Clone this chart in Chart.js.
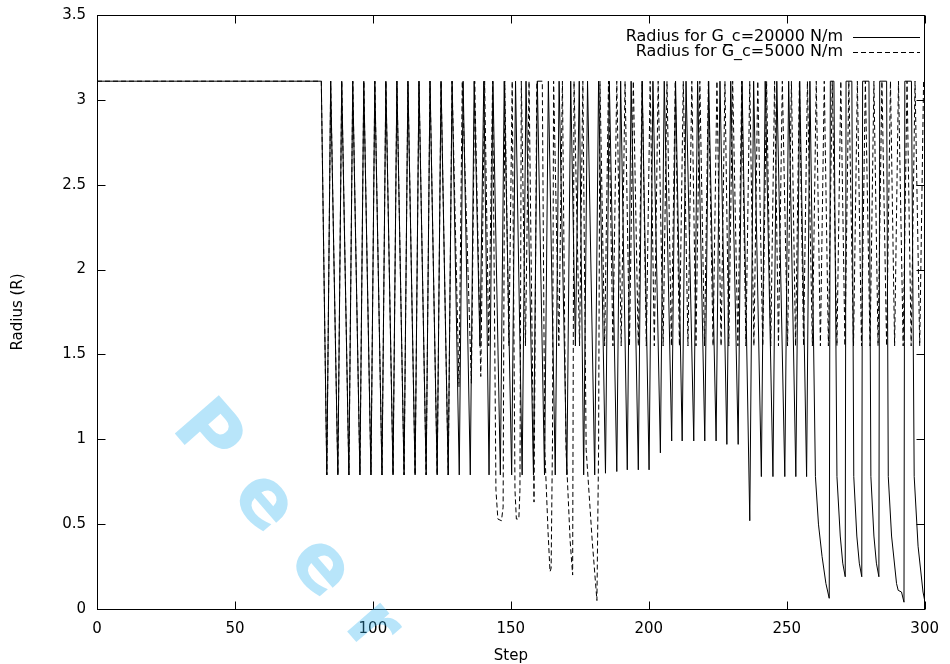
<!DOCTYPE html>
<html><head><meta charset="utf-8">
<script src="https://cdn.jsdelivr.net/npm/chart.js@4.4.1/dist/chart.umd.min.js"></script>
<style>html,body{margin:0;padding:0;background:#fff;}#wrap{width:950px;height:664px;}</style>
</head><body><div id="wrap"><canvas id="c" width="950" height="664"></canvas></div>
<script>
const xTicks = [0, 50, 100, 150, 200, 250, 300];
const yTicks = [0, 0.5, 1, 1.5, 2, 2.5, 3, 3.5];
const seriesLabels = ['Radius for G_c=20000 N/m', 'Radius for G_c=5000 N/m'];
const xTitle = 'Step';
const yTitle = 'Radius (R)';
const watermark = 'Peer Review';

const stepsSolid = [
 0, 81.3,
 83.3, 84.7, 87.3, 88.7, 91.3, 92.7, 95.3, 96.7, 99.3, 100.7, 103.3, 104.7, 107.3, 108.7,
 111.3, 112.7, 115.3, 116.7, 119.3, 120.7, 123.3, 124.7, 127.3, 128.7, 131.3, 132.7, 135.3, 136.7,
 138.8, 140.2, 142.1, 143.5, 146.2, 147.6, 150.3, 151.7, 154.1, 155.5, 158.2, 159.6, 162.2, 163.6,
 166.1, 167.5, 170.3, 171.7, 173.4, 174.8, 176.4, 177.8, 180.4, 181.8, 184.3, 185.7, 188.4, 189.8,
 192.2, 193.6, 196.2, 197.6, 200.1, 201.5, 204.2, 205.6, 208.3, 209.7, 212.1, 213.5, 216.3, 217.7,
 220.3, 221.7, 224.4, 225.8, 228.3, 229.7, 232.4, 233.8, 236.6, 238.0, 240.8, 242.2, 245.0, 246.4,
 249.3, 250.7, 253.3, 254.7, 257.2, 258.4,
 260.4, 261.5, 262.8, 264.2, 265.4, 265.8,
 267.1, 268.2, 269.4, 270.3, 271.2, 271.5,
 273.6, 274.3, 275.4, 276.3, 277.2, 277.5,
 279.8, 280.5, 281.6, 282.5, 283.4, 283.7,
 286.2, 286.8, 288.0, 289.8, 290.4, 291.6, 292.5, 292.8,
 295.2, 296.2, 297.6, 299.4, 300
];
const radiusSolid = [
 3.11, 3.11,
 0.79, 3.11, 0.79, 3.11, 0.79, 3.11, 0.79, 3.11, 0.79, 3.11, 0.79, 3.11, 0.79, 3.11,
 0.79, 3.11, 0.79, 3.11, 0.79, 3.11, 0.79, 3.11, 0.79, 3.11, 0.79, 3.11, 0.79, 3.11,
 1.55, 3.11, 0.79, 3.11, 0.79, 3.11, 0.79, 3.11, 0.79, 3.11, 0.79, 3.11, 0.79, 3.11,
 0.79, 3.11, 0.79, 3.11, 1.55, 3.11, 0.79, 3.11, 0.79, 3.11, 0.80, 3.11, 0.81, 3.11,
 0.82, 3.11, 0.82, 3.11, 0.82, 3.11, 0.92, 3.11, 0.99, 3.11, 0.99, 3.11, 0.99, 3.11,
 0.99, 3.11, 0.99, 3.11, 0.97, 3.11, 0.97, 3.11, 0.52, 3.11, 0.78, 3.11, 0.78, 3.11,
 0.78, 3.11, 0.78, 3.11, 0.78, 3.11,
 0.78, 0.50, 0.31, 0.15, 0.063, 3.11,
 3.11, 0.78, 0.43, 0.27, 0.19, 3.11,
 3.11, 0.78, 0.43, 0.27, 0.19, 3.11,
 3.11, 0.78, 0.43, 0.27, 0.19, 3.11,
 3.11, 0.78, 0.43, 0.15, 0.11, 0.10, 0.04, 3.11,
 3.11, 0.78, 0.37, 0.10, 0.05
];

const stepsDashed = [
 0, 81.3,
 83.3, 84.7, 87.3, 88.7, 91.3, 92.7, 95.3, 96.7, 99.3, 100.7, 103.3, 104.7, 107.3, 108.7,
 111.3, 112.7, 115.3, 116.7, 119.3, 120.7, 123.3, 124.7, 127.3, 128.7,
 131.2, 132.4, 135.7, 136.9, 139.1, 140.5, 142.0, 143.4,
 144.6, 145.3, 146.6, 147.2, 147.8, 149.3, 150.5,
 151.5, 152.0, 152.9, 153.3, 153.8, 155.3, 156.6, 158.4, 159.4, 161.4,
 162.3, 163.5, 164.2, 164.6, 165.1, 165.5, 167.4, 168.7,
 169.6, 170.0, 171.5, 172.4, 172.9, 174.9, 176.1,
 177.3, 179.5, 181.2, 181.8, 182.3,
 184.0, 185.4, 187.0, 188.4, 190.0, 191.4, 193.0, 194.4, 196.2, 197.6,
 199.1, 200.5, 202.0, 203.4, 205.2, 206.6, 208.2, 209.6, 211.1, 212.5,
 214.2, 215.6, 217.1, 218.5, 220.2, 221.6, 223.3, 224.7, 226.2, 227.6,
 229.0, 230.4, 232.3, 233.7, 235.2, 236.6, 238.1, 239.5, 241.3, 242.7,
 244.2, 245.6, 247.0, 248.4, 250.3, 251.7, 253.2, 254.6, 256.1, 257.5,
 259.3, 260.7, 262.2, 263.6, 265.1, 266.5, 268.2, 269.6, 271.1, 272.5,
 274.2, 275.6, 277.1, 278.5, 280.2, 281.6, 283.1, 284.5, 286.2, 287.6,
 289.1, 290.5, 292.2, 293.6, 295.1, 296.5, 298.2, 299.6, 300
];
const radiusDashed = [
 3.11, 3.11,
 0.79, 3.11, 0.79, 3.11, 0.79, 3.11, 0.79, 3.11, 0.79, 3.11, 0.79, 3.11, 0.79, 3.11,
 0.79, 3.11, 0.79, 3.11, 0.79, 3.11, 0.79, 3.11, 0.79, 3.11,
 1.31, 3.11, 1.33, 3.11, 1.37, 3.11, 1.55, 3.11,
 0.70, 0.53, 0.52, 0.60, 3.11, 1.55, 3.11,
 0.70, 0.53, 0.53, 0.70, 3.11, 1.55, 3.11, 0.63, 3.11, 3.11,
 0.94, 0.45, 0.22, 0.24, 1.00, 3.11, 1.55, 3.11,
 1.50, 0.94, 0.40, 0.20, 3.11, 1.55, 3.11,
 0.94, 0.40, 0.05, 0.94, 3.11,
 1.55, 3.11, 1.55, 3.11, 1.55, 3.11, 1.55, 3.11, 1.55, 3.11,
 1.55, 3.11, 1.55, 3.11, 1.55, 3.11, 1.55, 3.11, 1.55, 3.11,
 1.55, 3.11, 1.55, 3.11, 1.55, 3.11, 1.55, 3.11, 1.55, 3.11,
 1.55, 3.11, 1.55, 3.11, 1.55, 3.11, 1.55, 3.11, 1.55, 3.11,
 1.55, 3.11, 1.55, 3.11, 1.55, 3.11, 1.55, 3.11, 1.55, 3.11,
 1.55, 3.11, 1.55, 3.11, 1.55, 3.11, 1.55, 3.11, 1.55, 3.11,
 1.55, 3.11, 1.55, 3.11, 1.55, 3.11, 1.55, 3.11, 1.55, 3.11,
 1.55, 3.11, 1.55, 3.11, 1.55, 3.11, 1.55, 3.11, 3.11
];

const DASH = [5, 3];
const FONT = '"DejaVu Sans", sans-serif';

function pts(xs, ys) { return xs.map((x, i) => ({ x: x, y: ys[i] })); }

const framePlugin = {
  id: 'frame',
  afterDraw(chart) {
    const ctx = chart.ctx, a = chart.chartArea;
    const xs = chart.scales.x, ys = chart.scales.y;
    ctx.save();
    ctx.strokeStyle = '#000';
    ctx.lineWidth = 1;
    ctx.setLineDash([]);
    const l = Math.round(a.left) + 0.5, t = Math.round(a.top) + 0.5;
    const r = Math.round(a.right) - 0.5, b = Math.round(a.bottom) + 0.5;
    ctx.strokeRect(l, t, r - l, b - t);
    const L = 8;
    ctx.beginPath();
    xTicks.forEach(v => {
      const p = Math.round(xs.getPixelForValue(v)) + 0.5;
      ctx.moveTo(p, b); ctx.lineTo(p, b - L);
      ctx.moveTo(p, t); ctx.lineTo(p, t + L);
    });
    yTicks.forEach(v => {
      const p = Math.round(ys.getPixelForValue(v)) + 0.5;
      ctx.moveTo(l, p); ctx.lineTo(l + L, p);
      ctx.moveTo(r, p); ctx.lineTo(r - L, p);
    });
    ctx.stroke();

    // legend
    ctx.font = '16px ' + FONT;
    ctx.fillStyle = '#000';
    ctx.textAlign = 'right';
    ctx.textBaseline = 'middle';
    const rows = [37, 52];
    seriesLabels.forEach((txt, i) => {
      ctx.fillText(txt, 843, rows[i]);
      ctx.beginPath();
      ctx.setLineDash(i === 0 ? [] : DASH);
      ctx.moveTo(853, rows[i] + 0.5); ctx.lineTo(920, rows[i] + 0.5);
      ctx.stroke();
    });
    ctx.setLineDash([]);

    // watermark
    ctx.globalAlpha = 0.35;
    ctx.fillStyle = '#33b5f0';
    ctx.font = 'bold 80px ' + FONT;
    ctx.letterSpacing = '32px';
    ctx.textAlign = 'left';
    ctx.textBaseline = 'alphabetic';
    ctx.translate(170, 428);
    ctx.rotate(49 * Math.PI / 180);
    ctx.fillText(watermark, 0, 0);
    ctx.restore();
  }
};

new Chart(document.getElementById('c'), {
  type: 'scatter',
  data: {
    datasets: [
      { label: seriesLabels[0], data: pts(stepsSolid, radiusSolid), showLine: true,
        borderColor: '#000', borderWidth: 1, pointRadius: 0, tension: 0 },
      { label: seriesLabels[1], data: pts(stepsDashed, radiusDashed), showLine: true,
        borderColor: '#000', borderWidth: 1, pointRadius: 0, tension: 0, borderDash: DASH }
    ]
  },
  options: {
    responsive: false,
    animation: false,
    devicePixelRatio: 1,
    layout: { padding: { left: 0, right: 20, top: 15, bottom: 0 } },
    plugins: { legend: { display: false }, tooltip: { enabled: false } },
    scales: {
      x: {
        type: 'linear', min: 0, max: 300,
        afterBuildTicks(s) { s.ticks = xTicks.map(v => ({ value: v })); },
        afterFit(s) { s.height = 55; },
        grid: { display: false, drawTicks: false },
        border: { display: false },
        ticks: { color: '#000', font: { family: FONT, size: 15 }, padding: 11, maxRotation: 0,
                 callback: v => String(v) },
        title: { display: true, text: xTitle, color: '#000', font: { family: FONT, size: 15, lineHeight: 1 }, padding: { top: 0, bottom: 0 } }
      },
      y: {
        type: 'linear', min: 0, max: 3.5,
        afterBuildTicks(s) { s.ticks = yTicks.map(v => ({ value: v })); },
        afterFit(s) { s.width = 97; s.paddingTop = 0; s.paddingBottom = 0; },
        grid: { display: false, drawTicks: false },
        border: { display: false },
        ticks: { color: '#000', font: { family: FONT, size: 15 }, padding: 11,
                 callback: v => String(v) },
        title: { display: true, text: yTitle, color: '#000', font: { family: FONT, size: 15 }, padding: { top: 9, bottom: 0 } }
      }
    }
  },
  plugins: [framePlugin]
});
</script></body></html>
